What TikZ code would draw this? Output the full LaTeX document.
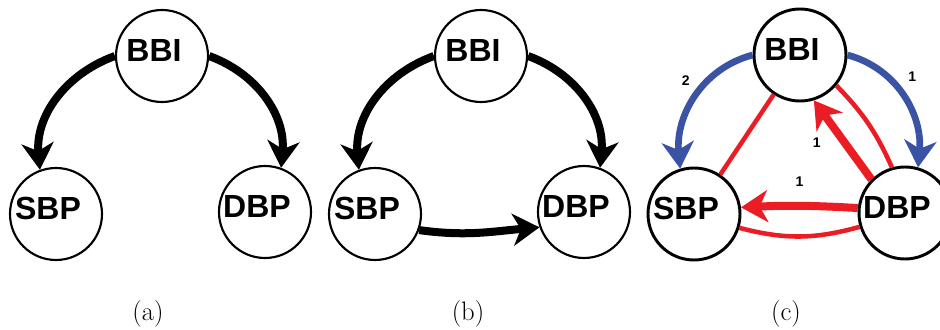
\documentclass[tikz,border=0pt]{standalone}
\usepackage{fontspec}
\newfontfamily\helv{Liberation Sans}
\usetikzlibrary{arrows.meta}
\definecolor{netblue}{RGB}{58,83,164}
\definecolor{netred}{RGB}{236,28,36}
\newcommand{\statefont}{\helv\bfseries\fontsize{24}{28}\selectfont}
\newcommand{\edgefont}{\helv\bfseries\fontsize{10.5}{12}\selectfont}

\begin{document}
\begin{tikzpicture}[x=0.75pt, y=0.75pt,
  st/.style={circle, draw, line width=1.6pt, minimum size=69pt, inner sep=0pt,
             label={[font=\statefont, xshift=-6pt, yshift=4.5pt]center:#1}},
  stc/.style={st=#1, line width=2.2pt},
  flow/.style={line width=6pt, -{Stealth[length=20pt, width=24pt, inset=6pt]}},
  bflow/.style={flow, draw=netblue, line width=5pt},
  rflow/.style={flow, draw=netred, fill=netred},
  rlink/.style={draw=netred, line width=3.4pt},
  elab/.style={font=\edgefont, inner sep=1pt},
  subcap/.style={font=\fontsize{20}{24}\selectfont}
]
\useasboundingbox (0,0) rectangle (940,329);

% (a)
\node[st=BBI] (a-bbi) at (162,273) {};
\node[st=SBP] (a-sbp) at (56,115) {};
\node[st=DBP] (a-dbp) at (265,117) {};
\draw[flow] (a-bbi.180) to[out=200, in=95] (a-sbp.110);
\draw[flow] (a-bbi.0) to[out=-20, in=85] (a-dbp.70);
\node[subcap] (a-cap) at (148,15) {(a)};

% (b)
\node[st=BBI] (b-bbi) at (481,273) {};
\node[st=SBP] (b-sbp) at (375,115) {};
\node[st=DBP] (b-dbp) at (584,117) {};
\draw[flow] (b-bbi.180) to[out=200, in=95] (b-sbp.110);
\draw[flow] (b-bbi.0) to[out=-20, in=85] (b-dbp.70);
\draw[flow] (b-sbp.-20) to[out=-8, in=185] (b-dbp.199);
\node[subcap] (b-cap) at (468,15) {(b)};

% (c)
\node[stc=BBI] (c-bbi) at (800,274) {};
\node[stc=SBP] (c-sbp) at (694,115) {};
\node[stc=DBP] (c-dbp) at (905,116) {};
\draw[rlink] (c-bbi) -- (c-sbp);
\draw[rlink] (c-bbi.-40) to[bend left=10] (c-dbp.106);
\draw[rlink] (c-sbp.-17) to[bend right=15] (c-dbp.197);
\draw[bflow] (c-bbi.180) to[out=195, in=95] node[elab, pos=0.25, xshift=-25pt, yshift=-7pt] (l-bs) {2} (c-sbp.107);
\draw[bflow] (c-bbi.0) to[out=-15, in=85] node[elab, pos=0.25, xshift=24pt, yshift=-4.5pt] (l-bd) {1} (c-dbp.74);
\draw[rflow] (c-dbp.135) -- node[elab, midway, xshift=-19.5pt, yshift=-2pt] (l-db) {1} (c-bbi.-73);
\draw[rflow] (c-dbp.174) to[bend right=3] node[elab, midway, yshift=18pt] (l-ds) {1} (c-sbp.8);
\node[subcap] (c-cap) at (786,15) {(c)};
\end{tikzpicture}
\end{document}
